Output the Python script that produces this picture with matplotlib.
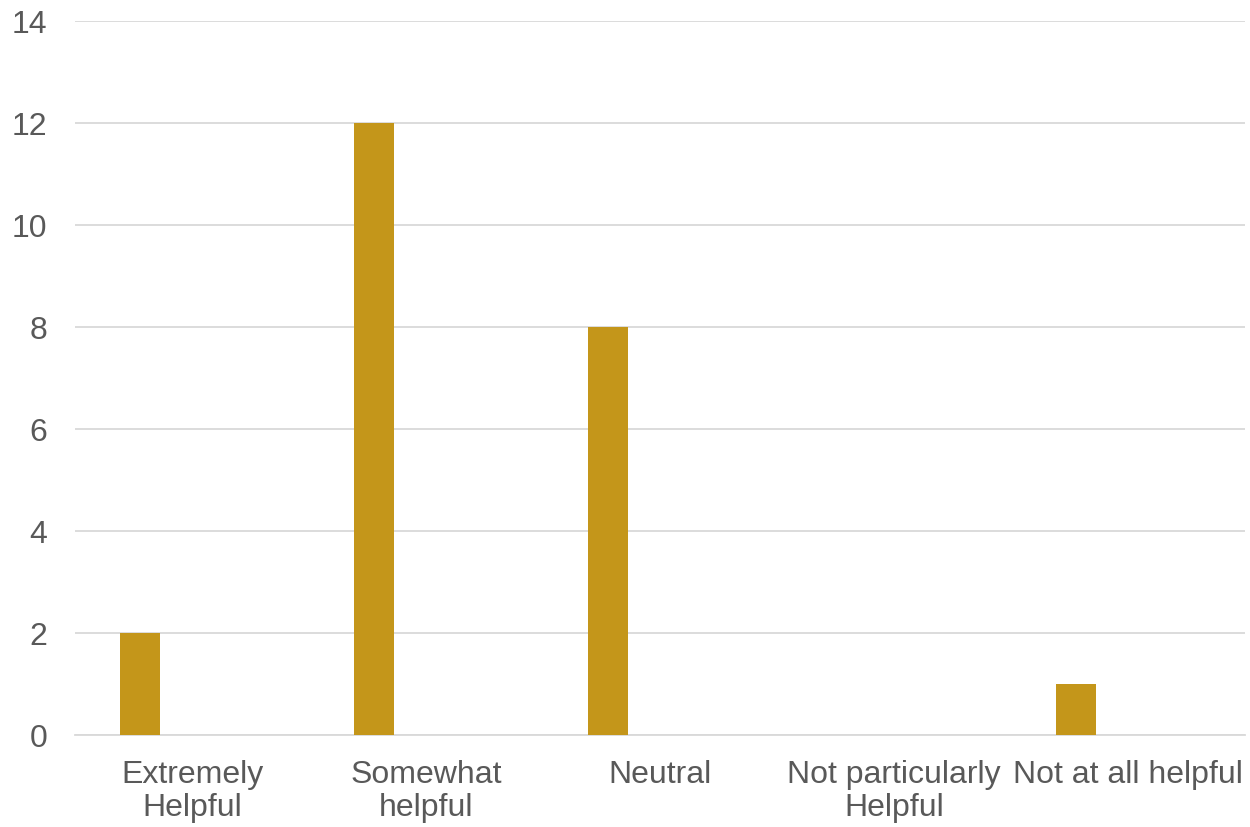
import matplotlib
matplotlib.use("Agg")
import matplotlib.pyplot as plt
import numpy as np

categories = ["Extremely\nHelpful", "Somewhat\nhelpful", "Neutral",
              "Not particularly\nHelpful", "Not at all helpful"]
counts = [2, 12, 8, 0, 1]
y_ticks = [0, 2, 4, 6, 8, 10, 12, 14]

plt.rcParams["font.family"] = ["Liberation Sans", "DejaVu Sans"]

fig = plt.figure(figsize=(12.5, 8.27), dpi=100)
ax = fig.add_axes([0.06, 0.111, 0.936, 0.8636])

x = np.arange(len(categories))
ax.bar(x - 0.222, counts, width=0.171, color="#C4961A", zorder=3)

ax.set_xlim(-0.5, len(categories) - 0.5)
ax.set_ylim(0, 14)
ax.set_yticks(y_ticks)
ax.set_xticks(x)
ax.set_xticklabels(categories, linespacing=1.12)

ax.grid(axis="y", color="#D9D9D9", linewidth=1.3, zorder=0)
for side in ["top", "right", "left"]:
    ax.spines[side].set_visible(False)
ax.spines["bottom"].set_color("#D9D9D9")
ax.spines["bottom"].set_linewidth(1.3)

ax.tick_params(axis="both", length=0, labelsize=23, colors="#595959")
ax.tick_params(axis="y", pad=20)
ax.tick_params(axis="x", pad=18)

fig.savefig("out.png", dpi=100)
